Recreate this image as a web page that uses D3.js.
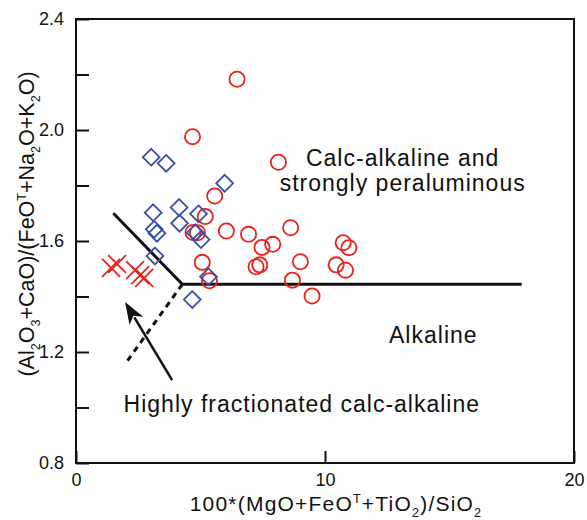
<!DOCTYPE html>
<html>
<head>
<meta charset="utf-8">
<script src="https://cdn.jsdelivr.net/npm/d3@7"></script>
<style>
  body { margin: 0; background: #fff; }
  text { font-family: "Liberation Sans", Arial, sans-serif; fill: #111; }
</style>
</head>
<body>
<svg id="chart"></svg>
<script>
// Calc-alkaline and strongly peraluminous samples (red circles)
const circles = [
  [6.47, 2.183], [4.68, 1.976], [8.13, 1.884], [5.57, 1.762], [5.19, 1.688],
  [4.70, 1.631], [4.88, 1.630], [6.04, 1.636], [6.93, 1.624], [8.62, 1.648],
  [7.47, 1.577], [7.90, 1.588], [5.07, 1.523], [5.36, 1.457], [7.23, 1.507],
  [7.38, 1.514], [9.01, 1.525], [8.69, 1.459], [9.48, 1.402], [10.73, 1.594],
  [10.96, 1.576], [10.45, 1.514], [10.82, 1.495]
];
// blue diamonds
const diamonds = [
  [3.02, 1.902], [3.62, 1.880], [5.97, 1.808], [3.10, 1.702], [4.14, 1.721],
  [4.16, 1.664], [4.92, 1.698], [3.14, 1.642], [3.25, 1.628], [4.79, 1.630],
  [5.02, 1.605], [3.17, 1.546], [5.32, 1.471], [4.67, 1.389]
];
// red crosses
const crosses = [
  [1.41, 1.503], [1.65, 1.517], [2.37, 1.495], [2.58, 1.477], [2.74, 1.467]
];

// field boundaries
const solidBoundary = [[1.5, 1.70], [4.27, 1.444], [17.9, 1.444]];
const dottedBoundary = [[4.27, 1.444], [2.04, 1.165]];
const arrowLine = [[3.86, 1.099], [1.97, 1.38]];

const xTicks = [0, 10, 20];
const yTicks = [0.8, 1.0, 1.2, 1.4, 1.6, 1.8, 2.0, 2.2, 2.4];
const yLabelTicks = [0.8, 1.2, 1.6, 2.0, 2.4];

const labels = [
  { text: 'Calc-alkaline and', x: 13.12, y: 1.870 },
  { text: 'strongly peraluminous', x: 13.12, y: 1.780 },
  { text: 'Alkaline', x: 14.35, y: 1.232 },
  { text: 'Highly fractionated calc-alkaline', x: 9.07, y: 0.985 }
];

const W = 587, H = 520;
const margin = { top: 19, right: 13, bottom: 57, left: 76 };
const width = W - margin.left - margin.right;
const height = H - margin.top - margin.bottom;

const svg = d3.select('#chart').attr('width', W).attr('height', H);
const g = svg.append('g').attr('transform', `translate(${margin.left},${margin.top})`);

const x = d3.scaleLinear().domain([0, 20]).range([0, width]);
const y = d3.scaleLinear().domain([0.8, 2.4]).range([height, 0]);

// y axis, ticks pointing inward
const yAxis = g.append('g')
  .call(d3.axisLeft(y).tickValues(yTicks).tickSizeInner(-13).tickSizeOuter(0).tickPadding(12)
    .tickFormat(d => yLabelTicks.some(v => Math.abs(v - d) < 1e-6) ? d.toFixed(1) : ''));
yAxis.select('.domain').remove();
yAxis.selectAll('line').attr('stroke', '#111').attr('stroke-width', 2);
yAxis.selectAll('text').style('font-size', '18px').attr('fill', '#222');

const xAxis = g.append('g')
  .attr('transform', `translate(0,${height})`)
  .call(d3.axisBottom(x).tickValues(xTicks).tickSizeInner(-12).tickSizeOuter(0).tickPadding(10));
xAxis.select('.domain').remove();
xAxis.selectAll('line').attr('stroke', '#111').attr('stroke-width', 2);
xAxis.selectAll('text').style('font-size', '18px').attr('fill', '#222');

// frame
g.append('rect')
  .attr('width', width).attr('height', height)
  .attr('fill', 'none').attr('stroke', '#111').attr('stroke-width', 2);

const line = d3.line().x(d => x(d[0])).y(d => y(d[1]));

g.append('path').datum(solidBoundary).attr('d', line)
  .attr('fill', 'none').attr('stroke', '#111').attr('stroke-width', 3);
g.append('path').datum(dottedBoundary).attr('d', line)
  .attr('fill', 'none').attr('stroke', '#111').attr('stroke-width', 3)
  .attr('stroke-dasharray', '6,5');

// arrow
const [ax0, ay0] = [x(arrowLine[0][0]), y(arrowLine[0][1])];
const [ax1, ay1] = [x(arrowLine[1][0]), y(arrowLine[1][1])];
const ang = Math.atan2(ay1 - ay0, ax1 - ax0);
const headLen = 22, headW = 8;
g.append('line')
  .attr('x1', ax0).attr('y1', ay0)
  .attr('x2', ax1 - Math.cos(ang) * (headLen - 4)).attr('y2', ay1 - Math.sin(ang) * (headLen - 4))
  .attr('stroke', '#111').attr('stroke-width', 2.5);
const bx = ax1 - Math.cos(ang) * headLen, by = ay1 - Math.sin(ang) * headLen;
g.append('path')
  .attr('d', `M${ax1},${ay1}L${bx - Math.sin(ang) * headW},${by + Math.cos(ang) * headW}` +
    `L${ax1 - Math.cos(ang) * (headLen - 6)},${ay1 - Math.sin(ang) * (headLen - 6)}` +
    `L${bx + Math.sin(ang) * headW},${by - Math.cos(ang) * headW}Z`)
  .attr('fill', '#111');

// samples
g.selectAll('.circ').data(circles).enter().append('circle')
  .attr('class', 'circ')
  .attr('cx', d => x(d[0])).attr('cy', d => y(d[1])).attr('r', 7.6)
  .attr('fill', 'none').attr('stroke', '#e8231c').attr('stroke-width', 1.8);

g.selectAll('.diam').data(diamonds).enter().append('path')
  .attr('class', 'diam')
  .attr('d', d3.symbol().type(d3.symbolDiamond2).size(180))
  .attr('transform', d => `translate(${x(d[0])},${y(d[1])})`)
  .attr('fill', 'none').attr('stroke', '#3a4ea6').attr('stroke-width', 1.8);

g.selectAll('.cross').data(crosses).enter().append('path')
  .attr('class', 'cross')
  .attr('d', d3.symbol().type(d3.symbolTimes).size(210))
  .attr('transform', d => `translate(${x(d[0])},${y(d[1])})`)
  .attr('fill', 'none').attr('stroke', '#e8231c').attr('stroke-width', 1.8);

// field labels
g.selectAll('.lab').data(labels).enter().append('text')
  .attr('class', 'lab')
  .attr('x', d => x(d.x)).attr('y', d => y(d.y))
  .attr('text-anchor', 'middle')
  .style('font-size', '23px').style('letter-spacing', '1px')
  .text(d => d.text);

// axis titles with sub/superscripts
function richText(sel, parts, size) {
  parts.forEach(p => {
    const t = sel.append('tspan').text(p[0]);
    if (p[1] === 'sub') t.style('font-size', (size * 0.6) + 'px').attr('dy', size * 0.3);
    if (p[1] === 'sup') t.style('font-size', (size * 0.6) + 'px').attr('dy', -size * 0.4);
    if (p[2]) t.attr('dy', p[2]);
  });
}

const xTitle = svg.append('text')
  .attr('x', 336).attr('y', 511)
  .attr('text-anchor', 'middle')
  .style('font-size', '21px').style('letter-spacing', '1.2px');
richText(xTitle, [
  ['100*(MgO+FeO'], ['T', 'sup'], ['+TiO', null, 21 * 0.4], ['2', 'sub'], [')/SiO', null, -21 * 0.3], ['2', 'sub']
], 21);

const yTitle = svg.append('text')
  .attr('transform', 'translate(34,224) rotate(-90)')
  .attr('text-anchor', 'middle')
  .style('font-size', '21.5px');
richText(yTitle, [
  ['(Al'], ['2', 'sub'], ['O', null, -21 * 0.3], ['3', 'sub'], ['+CaO)/(FeO', null, -21 * 0.3], ['T', 'sup'],
  ['+Na', null, 21 * 0.4], ['2', 'sub'], ['O+K', null, -21 * 0.3], ['2', 'sub'], ['O)', null, -21 * 0.3]
], 21);
</script>
</body>
</html>
